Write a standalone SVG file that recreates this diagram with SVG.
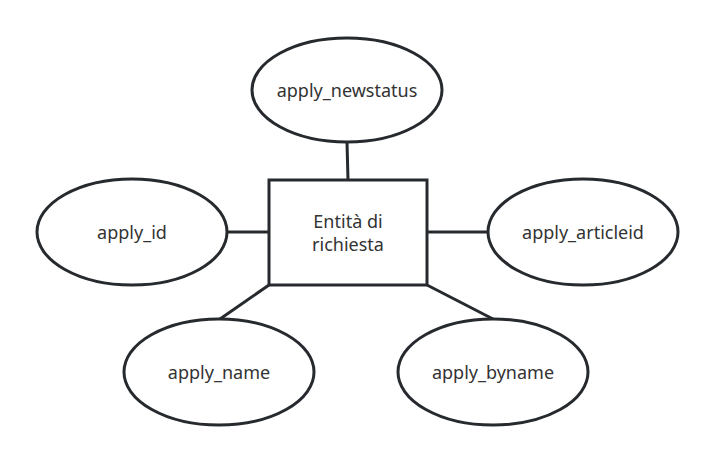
<svg xmlns="http://www.w3.org/2000/svg" width="714" height="462" viewBox="0 0 714 462">
<style>
.shape{fill:#ffffff;stroke:#262a2e;stroke-width:3}
.conn{stroke:#262a2e;stroke-width:3;fill:none}
.lbl{font-family:"Noto Sans","Open Sans",sans-serif;font-size:18px;fill:#333333;text-anchor:middle;dominant-baseline:central}
</style>
<rect width="714" height="462" fill="#ffffff"/>
<g id="connectors">
<line class="conn" x1="347" y1="142" x2="348" y2="180"/>
<line class="conn" x1="227" y1="232" x2="269" y2="232"/>
<line class="conn" x1="427" y1="232" x2="488" y2="232"/>
<line class="conn" x1="269" y1="285" x2="220" y2="319"/>
<line class="conn" x1="427" y1="285" x2="493" y2="319"/>
</g>
<g id="entity">
<rect class="shape" x="269" y="180" width="158" height="105"/>
<text class="lbl" x="348" y="221">Entità di</text>
<text class="lbl" x="348" y="244">richiesta</text>
</g>
<g id="apply_newstatus">
<ellipse class="shape" cx="347" cy="90" rx="95" ry="52"/>
<text class="lbl" x="347" y="90">apply_newstatus</text>
</g>
<g id="apply_id">
<ellipse class="shape" cx="132" cy="232" rx="95" ry="53"/>
<text class="lbl" x="132" y="232">apply_id</text>
</g>
<g id="apply_articleid">
<ellipse class="shape" cx="583" cy="232" rx="95" ry="53"/>
<text class="lbl" x="583" y="232">apply_articleid</text>
</g>
<g id="apply_name">
<ellipse class="shape" cx="219" cy="372" rx="95" ry="53"/>
<text class="lbl" x="219" y="372">apply_name</text>
</g>
<g id="apply_byname">
<ellipse class="shape" cx="493" cy="372" rx="95" ry="53"/>
<text class="lbl" x="493" y="372">apply_byname</text>
</g>
</svg>
